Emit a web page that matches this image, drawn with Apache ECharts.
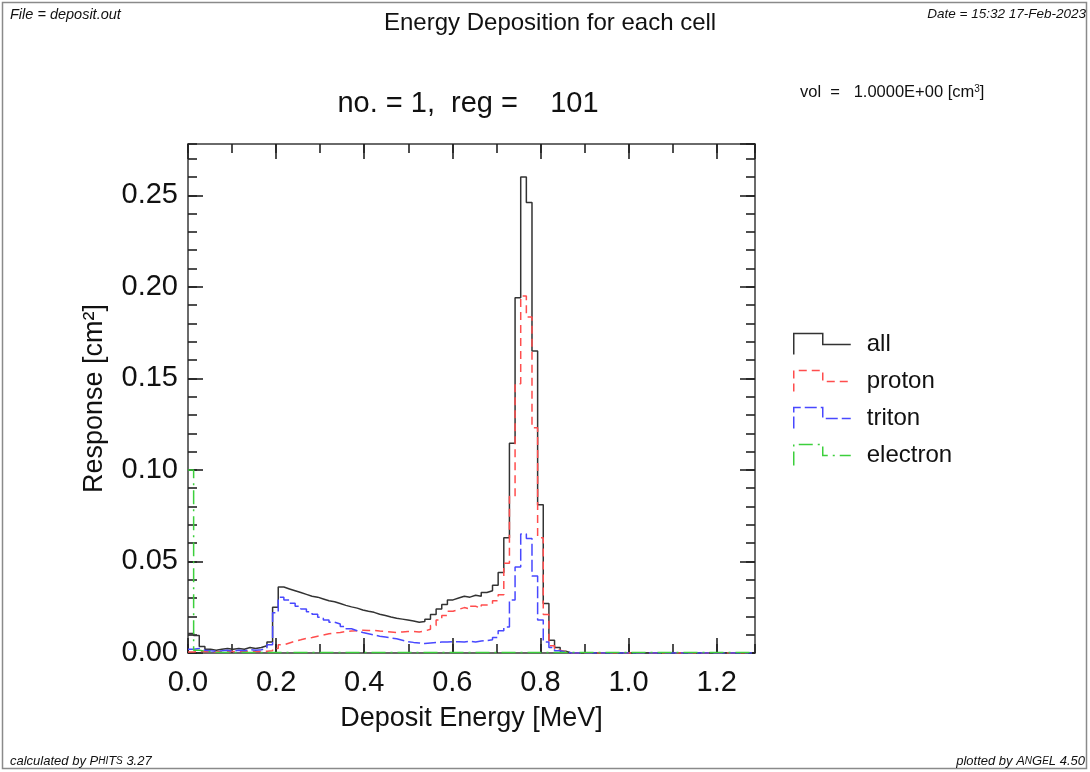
<!DOCTYPE html>
<html><head><meta charset="utf-8">
<script src="https://cdn.jsdelivr.net/npm/echarts@6/dist/echarts.min.js"></script>
<style>html,body{margin:0;padding:0;background:#fff}#c{width:1090px;height:772px}</style>
</head><body><div id="c"></div>
<script>
// ---- data (histogram, 100 bins of width 0.0128 MeV starting at 0) ----
const binStart = 0.0;
const binWidth = 0.0128;
const seriesNames = ['all', 'proton', 'triton', 'electron'];
const allResp = [
0.0107,0.0095,0.0035,0.0020,0.0015,0.0020,0.0025,0.0020,0.0025,0.0020,
0.0030,0.0025,0.0030,0.0040,0.0060,0.0250,0.0360,0.0350,0.0340,0.0330,
0.0320,0.0310,0.0305,0.0295,0.0285,0.0280,0.0270,0.0260,0.0252,0.0245,
0.0235,0.0228,0.0222,0.0212,0.0205,0.0197,0.0190,0.0185,0.0180,0.0175,
0.0168,0.0172,0.0185,0.0210,0.0240,0.0265,0.0290,0.0300,0.0310,0.0305,
0.0315,0.0310,0.0330,0.0340,0.0370,0.0440,0.0630,0.1145,0.1940,0.2600,
0.2460,0.1650,0.0810,0.0270,0.0070,0.0030,0.0010,0,0,0,
0,0,0,0,0,0,0,0,0,0,
0,0,0,0,0,0,0,0,0,0,
0,0,0,0,0,0,0,0,0,0];
const protonResp = [
0.0005,0.0008,0.0010,0.0008,0.0005,0.0008,0.0010,0.0008,0.0010,0.0008,
0.0010,0.0008,0.0010,0.0010,0.0012,0.0025,0.0045,0.0055,0.0065,0.0072,
0.0080,0.0085,0.0092,0.0098,0.0105,0.0110,0.0112,0.0117,0.0120,0.0122,
0.0124,0.0123,0.0124,0.0120,0.0118,0.0115,0.0112,0.0115,0.0118,0.0118,
0.0115,0.0120,0.0130,0.0150,0.0180,0.0205,0.0228,0.0238,0.0248,0.0240,
0.0255,0.0245,0.0262,0.0268,0.0285,0.0318,0.0490,0.0855,0.1470,0.1950,
0.1835,0.1230,0.0630,0.0210,0.0040,0.0015,0.0005,0,0,0,
0,0,0,0,0,0,0,0,0,0,
0,0,0,0,0,0,0,0,0,0,
0,0,0,0,0,0,0,0,0,0];
const tritonResp = [
0.0020,0.0025,0.0015,0.0012,0.0010,0.0012,0.0015,0.0010,0.0015,0.0012,
0.0018,0.0015,0.0018,0.0025,0.0045,0.0220,0.0305,0.0290,0.0272,0.0255,
0.0240,0.0225,0.0212,0.0195,0.0180,0.0168,0.0158,0.0145,0.0132,0.0122,
0.0112,0.0105,0.0098,0.0092,0.0087,0.0082,0.0078,0.0070,0.0062,0.0058,
0.0055,0.0052,0.0055,0.0058,0.0060,0.0060,0.0062,0.0062,0.0060,0.0065,
0.0060,0.0065,0.0068,0.0072,0.0085,0.0122,0.0142,0.0290,0.0470,0.0650,
0.0626,0.0420,0.0180,0.0060,0.0030,0.0012,0.0005,0,0,0,
0,0,0,0,0,0,0,0,0,0,
0,0,0,0,0,0,0,0,0,0,
0,0,0,0,0,0,0,0,0,0];
const electronResp = [
0.1000,0.0015,0.0010,0.0008,0.0004,0.0003,0.0003,0.0003,0.0003,0.0003,
0.0003,0.0003,0.0003,0.0003,0.0003,0.0003,0.0003,0.0003,0.0003,0.0003,
0.0003,0.0003,0.0003,0.0003,0.0003,0.0003,0.0003,0.0003,0.0003,0.0003,
0.0003,0.0003,0.0003,0.0003,0.0003,0.0003,0.0003,0.0003,0.0003,0.0003,
0.0003,0.0003,0.0003,0.0003,0.0003,0.0003,0.0003,0.0003,0.0003,0.0003,
0.0003,0.0003,0.0003,0.0003,0.0003,0.0003,0.0003,0.0003,0.0003,0.0003,
0.0003,0.0003,0.0003,0.0003,0.0003,0.0003,0.0003,0.0003,0.0003,0.0003,
0.0003,0.0003,0.0003,0.0003,0.0003,0.0003,0.0003,0.0003,0.0003,0.0003,
0.0003,0.0003,0.0003,0.0003,0.0003,0.0003,0.0003,0.0003,0.0003,0.0003,
0.0003,0.0003,0.0003,0.0003,0.0003,0.0003,0.0003,0.0003,0.0003,0.0003];
const xRange = [0, 1.287];
const yRange = [0, 0.278];

// ---- styling / build ----
const FONT = 'Liberation Sans, Arial, Helvetica, sans-serif';
const colors = ['#333333', '#ff4d4d', '#4848ff', '#3ccf3c'];
const dashes = ['solid', [8, 5], [12, 4], [14, 5, 2, 5]];

function stepData(vals) {
  const d = [];
  for (let k = 0; k < vals.length; k++) d.push([binStart + k * binWidth, vals[k]]);
  d.push([binStart + vals.length * binWidth, vals[vals.length - 1]]);
  return d;
}
const respArrays = [allResp, protonResp, tritonResp, electronResp];

const G = {left: 188, top: 144, width: 567, height: 509};
const frame = {color: '#3a3a3a', width: 1.5};
const tickStyle = {color: '#222', width: 1.6};

function xAx(grid, pos, major) {
  return {
    type: 'value', gridIndex: grid, position: pos, min: xRange[0], max: xRange[1],
    interval: major ? 0.2 : 0.1,
    axisLine: {show: major, onZero: false, lineStyle: frame},
    axisTick: {show: true, inside: true, length: major ? 15 : 9, lineStyle: tickStyle},
    axisLabel: {show: major && pos === 'bottom', formatter: v => v.toFixed(1), showMaxLabel: false,
      fontSize: 29, color: '#111', margin: 15, fontFamily: FONT},
    splitLine: {show: false},
    name: (major && pos === 'bottom') ? 'Deposit Energy [MeV]' : '',
    nameLocation: 'middle', nameGap: 52,
    nameTextStyle: {fontSize: 27, color: '#111', fontFamily: FONT}
  };
}
function yAx(grid, pos, major) {
  return {
    type: 'value', gridIndex: grid, position: pos, min: yRange[0], max: yRange[1],
    interval: major ? 0.05 : 0.01,
    axisLine: {show: major, onZero: false, lineStyle: frame},
    axisTick: {show: true, inside: true, length: major ? 15 : 9, lineStyle: tickStyle},
    axisLabel: {show: major && pos === 'left', formatter: v => v.toFixed(2), showMaxLabel: false,
      fontSize: 29, color: '#111', margin: 10, fontFamily: FONT},
    splitLine: {show: false},
    name: (major && pos === 'left') ? 'Response [cm\u00B2]' : '',
    nameLocation: 'middle', nameGap: 80, nameRotate: 90,
    nameTextStyle: {fontSize: 27, color: '#111', fontFamily: FONT}
  };
}

const chart = echarts.init(document.getElementById('c'), null, {renderer: 'canvas'});
chart.setOption({
  animation: false,
  backgroundColor: '#fff',
  title: [{text: 'Energy Deposition for each cell', left: 379, top: 6,
    textStyle: {fontSize: 24, fontWeight: 'normal', color: '#111', fontFamily: FONT}}],
  grid: [Object.assign({}, G), Object.assign({}, G)],
  xAxis: [xAx(0, 'bottom', true), xAx(0, 'top', true), xAx(1, 'bottom', false), xAx(1, 'top', false)],
  yAxis: [yAx(0, 'left', true), yAx(0, 'right', true), yAx(1, 'left', false), yAx(1, 'right', false)],
  legend: {
    orient: 'vertical', left: 793, top: 332, padding: 0, itemWidth: 57, itemHeight: 21, itemGap: 13,
    icon: 'path://M0,21L0,0L29,0L29,11L57,11',
    textStyle: {fontSize: 24, color: '#111', fontFamily: FONT, padding: [0, 0, 0, 11]},
    data: seriesNames.map((n, i) => ({name: n, itemStyle: {color: 'rgba(0,0,0,0)', borderColor: colors[i], borderWidth: 1.5, borderType: dashes[i]}}))
  },
  series: seriesNames.map((n, i) => ({
    name: n, type: 'line', step: 'end', xAxisIndex: 0, yAxisIndex: 0,
    showSymbol: false, symbol: 'none', data: stepData(respArrays[i]),
    itemStyle: {color: colors[i]},
    lineStyle: {color: colors[i], width: 1.5, type: dashes[i]},
    emphasis: {disabled: true}
  })),
  graphic: [
    {type: 'rect', shape: {x: 2.5, y: 2.5, width: 1084, height: 766}, style: {fill: 'none', stroke: '#8a8a8a', lineWidth: 1.5}, silent: true},
    {type: 'text', x: 10, y: 7, style: {text: 'File = deposit.out', font: 'italic 14.5px ' + FONT, fill: '#111'}},
    {type: 'text', x: 1086, y: 7, style: {text: 'Date = 15:32 17-Feb-2023', font: 'italic 13.5px ' + FONT, fill: '#111', textAlign: 'right'}},
    {type: 'text', x: 468, y: 104, style: {text: 'no. = 1,  reg =    101', font: '29px ' + FONT, fill: '#111', textAlign: 'center', textVerticalAlign: 'middle'}},
    {type: 'text', x: 800, y: 84, style: {text: 'vol  =   1.0000E+00 [cm{s|3}]', font: '16.5px ' + FONT, fill: '#111',
      rich: {s: {fontSize: 10, verticalAlign: 'top', padding: [0, 0, 7, 0], fontFamily: FONT}}}},
    {type: 'text', x: 10, y: 755, style: {text: 'calculated by {c|P}{s|HI}{c|T}{s|S} 3.27', font: 'italic 13px ' + FONT, fill: '#111',
      rich: {c: {fontSize: 13, fontStyle: 'italic', fontFamily: FONT}, s: {fontSize: 10, fontStyle: 'italic', fontFamily: FONT}}}},
    {type: 'text', x: 1085, y: 755, style: {text: 'plotted by {c|A}{s|N}{c|G}{s|E}{c|L} 4.50', font: 'italic 13px ' + FONT, fill: '#111', textAlign: 'right',
      rich: {c: {fontSize: 13, fontStyle: 'italic', fontFamily: FONT}, s: {fontSize: 10, fontStyle: 'italic', fontFamily: FONT}}}}
  ]
});
</script>
</body></html>
